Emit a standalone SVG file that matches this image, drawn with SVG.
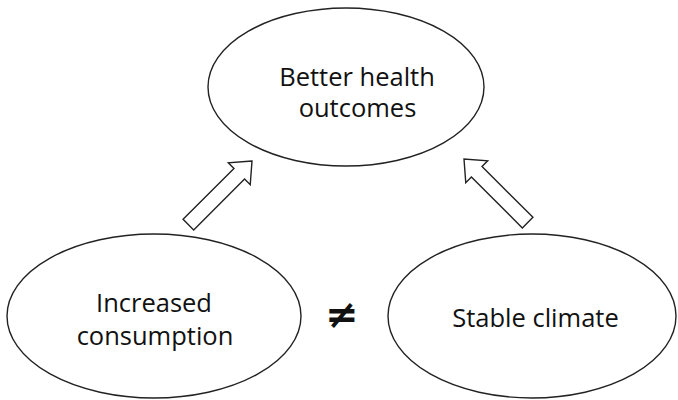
<svg xmlns="http://www.w3.org/2000/svg" width="678" height="400" viewBox="0 0 678 400">
<style>
.node ellipse{fill:#fff;stroke:#222;stroke-width:1.4}
.node text{font-family:"Open Sans","Noto Sans","Liberation Sans",sans-serif;font-size:25.5px;fill:#111;text-anchor:middle}
.arrow{fill:#fff;stroke:#222;stroke-width:1.4;stroke-linejoin:miter}
.neq{font-family:"DejaVu Sans","Liberation Sans",sans-serif;font-size:40px;font-weight:bold;fill:#111;text-anchor:middle}
</style>
<defs>
<polygon id="blk" points="0,0 -18,-15.5 -18,-7.5 -90,-7.5 -90,7.5 -18,7.5 -18,15.5"/>
</defs>
<rect width="678" height="400" fill="#fff"/>
<g id="health" class="node">
<ellipse cx="346" cy="87" rx="138" ry="79"/>
<text x="357" y="86">Better health</text>
<text x="357.5" y="117">outcomes</text>
</g>
<g id="consumption" class="node">
<ellipse cx="154" cy="316" rx="147" ry="82"/>
<text x="154" y="312">Increased</text>
<text x="155" y="345">consumption</text>
</g>
<g id="climate" class="node">
<ellipse cx="532" cy="316" rx="144" ry="82"/>
<text x="535.5" y="327">Stable climate</text>
</g>
<g id="connectors">
<use href="#blk" class="arrow" transform="translate(252,161) rotate(-45)"/>
<use href="#blk" class="arrow" transform="translate(464,159) rotate(-135)"/>
<text class="neq" x="342" y="328">≠</text>
</g>
</svg>
